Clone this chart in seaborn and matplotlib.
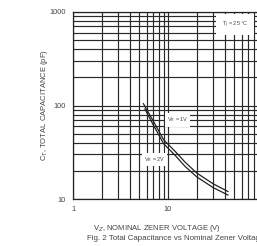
import pandas as pd
import seaborn as sns
import matplotlib.pyplot as plt
from matplotlib.ticker import LogLocator, NullFormatter, FixedLocator

# values
vz_1v = [5.5, 7, 9, 12, 15, 20, 30, 43]
ct_1v = [105, 68, 43, 32, 25, 19, 14.5, 12]
vz_2v = [5.7, 7, 9, 12, 15, 20, 30, 43]
ct_2v = [92, 62, 39, 29, 22.5, 17.3, 13.2, 11]

x_ticks = [1, 10, 100]
x_labels = ["1", "10", "100"]
y_ticks = [10, 100, 1000]
y_labels = ["10", "100", "1000"]

df = pd.DataFrame({
    "Vz": vz_1v + vz_2v,
    "Ct": ct_1v + ct_2v,
    "VR": ["1V"] * len(vz_1v) + ["2V"] * len(vz_2v),
})

sns.set_style("white")
plt.rcParams["font.family"] = ["Liberation Sans", "DejaVu Sans"]

fig = plt.figure(figsize=(2.57, 2.46), dpi=100)
ax = fig.add_axes([73 / 257, 1 - 199 / 246, 190 / 257, 187 / 246])

sns.lineplot(data=df, x="Vz", y="Ct", hue="VR", palette=["#222222", "#222222"],
             linewidth=0.9, legend=False, ax=ax)

ax.set_xscale("log")
ax.set_yscale("log")
ax.set_xlim(1, 100)
ax.set_ylim(10, 1000)

ax.xaxis.set_major_locator(FixedLocator(x_ticks))
ax.set_xticklabels(x_labels)
ax.yaxis.set_major_locator(FixedLocator(y_ticks))
ax.set_yticklabels(y_labels)
ax.xaxis.set_minor_locator(LogLocator(base=10, subs=range(2, 10)))
ax.yaxis.set_minor_locator(LogLocator(base=10, subs=range(2, 10)))
ax.xaxis.set_minor_formatter(NullFormatter())
ax.yaxis.set_minor_formatter(NullFormatter())
ax.grid(True, which="both", color="#2a2a2a", linewidth=0.85)
ax.tick_params(which="both", length=0, labelsize=5.3, colors="#444444", pad=5)

for s in ax.spines.values():
    s.set_color("#222222")
    s.set_linewidth(0.9)

ax.set_xlabel("V$_Z$, NOMINAL ZENER VOLTAGE (V)", fontsize=5.5, color="#444444")
ax.xaxis.set_label_coords(0.44, -0.13)
ax.set_ylabel("C$_T$, TOTAL CAPACITANCE (pF)", fontsize=5.5, color="#444444")
ax.yaxis.set_label_coords(-0.12, 0.5)

box = dict(facecolor="white", edgecolor="none", pad=1.5)
ax.text(12.6, 70, "V$_R$ = 1V", fontsize=4, color="#444444", ha="center", va="center", bbox=box)
ax.text(7.2, 26.4, "V$_R$ = 2V", fontsize=4, color="#444444", ha="center", va="center", bbox=box)
ax.text(51, 735, "T$_J$ = 25 °C", fontsize=4, color="#444444", ha="center", va="center",
        bbox=dict(facecolor="white", edgecolor="none", pad=4))

fig.text(87 / 257, 1 - 238 / 246, "Fig. 2 Total Capacitance vs Nominal Zener Voltage",
         fontsize=5.7, color="#444444", ha="left", va="center")

fig.savefig("out.png", dpi=100)
